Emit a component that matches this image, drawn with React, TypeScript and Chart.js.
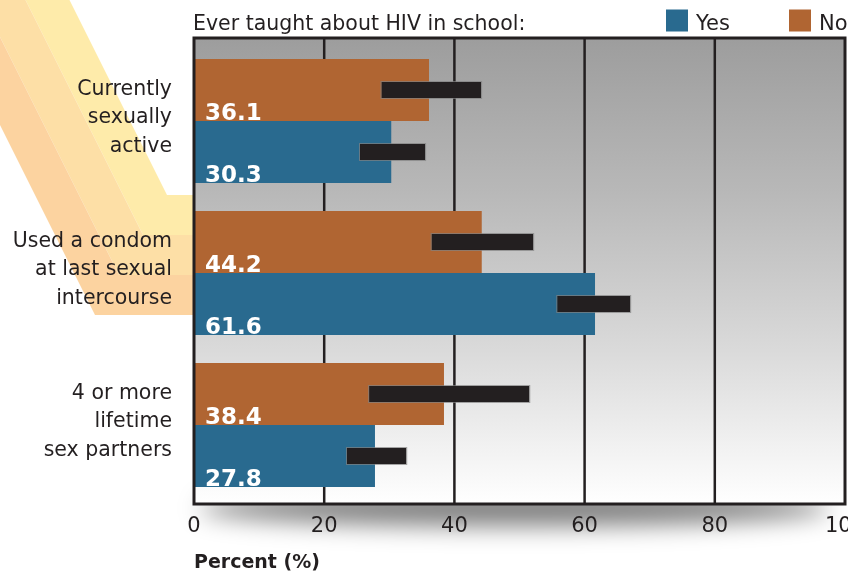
import React, { useEffect, useRef } from "react";
import { Chart, registerables } from "chart.js";

Chart.register(...registerables);

// ---- data ----
const categories: string[][] = [
  ["Currently", "sexually", "active"],
  ["Used a condom", "at last sexual", "intercourse"],
  ["4 or more", "lifetime", "sex partners"],
];
const seriesNames = ["No", "Yes"];
const noValues = [36.1, 44.2, 38.4];
const yesValues = [30.3, 61.6, 27.8];
const noLow = [28.8, 36.5, 26.9];
const noHigh = [44.1, 52.1, 51.5];
const yesLow = [25.5, 55.8, 23.5];
const yesHigh = [35.5, 67.0, 32.6];
const xTicks = [0, 20, 40, 60, 80, 100];
const headerText = "Ever taught about HIV in school:";
const axisTitle = "Percent (%)";

// ---- styles ----
const TEXT = "#231f20";
const NO_COLOR = "#b06532";
const YES_COLOR = "#296a8f";
const FAMILY = '"DejaVu Sans", "Liberation Sans", sans-serif';
const RIBBON = ["#feebaa", "#fddfa6", "#fcd3a0"];

const errLows = [noLow, yesLow];
const errHighs = [noHigh, yesHigh];
const values = [noValues, yesValues];

const decor = {
  id: "decor",
  beforeDraw(chart: any) {
    const ctx = chart.ctx as CanvasRenderingContext2D;
    const xs = chart.scales.x;
    const area = chart.chartArea;
    const left = xs.getPixelForValue(0);
    const right = xs.getPixelForValue(100);
    const top = area.top - 7;
    const bottom = area.bottom + 3;

    // decorative ribbon on the left
    const corner = (i: number) => ({ x: 167 - 24 * i, y: 195 + 40 * i });
    const atTop = (p: { x: number; y: number }) => p.x - 0.5 * p.y;
    ctx.save();
    for (let i = 0; i < 3; i++) {
      const a = corner(i);
      const b = corner(i + 1);
      ctx.fillStyle = RIBBON[i];
      ctx.beginPath();
      ctx.moveTo(atTop(a), 0);
      ctx.lineTo(a.x, a.y);
      ctx.lineTo(left, a.y);
      ctx.lineTo(left, b.y);
      ctx.lineTo(b.x, b.y);
      ctx.lineTo(atTop(b), 0);
      ctx.closePath();
      ctx.fill();
    }
    ctx.restore();

    // shadow under the plot
    ctx.save();
    ctx.filter = "blur(12px)";
    ctx.fillStyle = "rgba(0,0,0,0.5)";
    ctx.beginPath();
    ctx.ellipse((left + right) / 2 - 5, bottom + 4, 315, 18, 0, 0, Math.PI * 2);
    ctx.fill();
    ctx.restore();

    // plot background
    ctx.save();
    const g = ctx.createLinearGradient(0, top, 0, bottom);
    g.addColorStop(0, "#9d9d9d");
    g.addColorStop(0.33, "#b8b8b8");
    g.addColorStop(0.67, "#dadada");
    g.addColorStop(1, "#ffffff");
    ctx.fillStyle = g;
    ctx.fillRect(left, top, right - left, bottom - top);

    // grid lines
    ctx.strokeStyle = TEXT;
    ctx.lineWidth = 2.5;
    xs.ticks.forEach((t: any) => {
      if (t.value === 0 || t.value === 100) return;
      const px = xs.getPixelForValue(t.value);
      ctx.beginPath();
      ctx.moveTo(px, top);
      ctx.lineTo(px, bottom);
      ctx.stroke();
    });
    ctx.restore();
  },
  afterDatasetsDraw(chart: any) {
    const ctx = chart.ctx as CanvasRenderingContext2D;
    const xs = chart.scales.x;
    const area = chart.chartArea;
    const left = xs.getPixelForValue(0);
    const right = xs.getPixelForValue(100);
    const top = area.top - 7;
    const bottom = area.bottom + 3;
    ctx.save();
    chart.data.datasets.forEach((_ds: any, di: number) => {
      const meta = chart.getDatasetMeta(di);
      meta.data.forEach((bar: any, i: number) => {
        const p = bar.getProps(["x", "y", "base", "height"], true);
        const lo = xs.getPixelForValue(errLows[di][i]);
        const hi = xs.getPixelForValue(errHighs[di][i]);
        ctx.fillStyle = TEXT;
        ctx.fillRect(lo, p.y - 8, hi - lo, 16);
        ctx.strokeStyle = "rgba(130,130,130,0.7)";
        ctx.lineWidth = 1;
        ctx.strokeRect(lo - 0.5, p.y - 8.5, hi - lo + 1, 17);
        ctx.font = 'bold 23px "DejaVu Sans", sans-serif';
        ctx.fillStyle = "#ffffff";
        ctx.textAlign = "left";
        ctx.textBaseline = "alphabetic";
        ctx.fillText(values[di][i].toFixed(1), p.base + 11, p.y + p.height / 2 - 1);
      });
    });
    // border
    ctx.strokeStyle = TEXT;
    ctx.lineWidth = 3;
    ctx.strokeRect(left, top, right - left, bottom - top);
    ctx.restore();
  },
  afterDraw(chart: any) {
    const ctx = chart.ctx as CanvasRenderingContext2D;
    const xs = chart.scales.x;
    ctx.save();
    ctx.fillStyle = TEXT;
    ctx.font = "20.5px " + FAMILY;
    ctx.textAlign = "left";
    ctx.textBaseline = "alphabetic";
    ctx.fillText(headerText, xs.getPixelForValue(0) - 1, 29.5);
    // legend (Yes first, then No)
    const items = chart.data.datasets.slice().reverse();
    const xsPos = [666, 789];
    items.forEach((ds: any, k: number) => {
      const x0 = xsPos[k];
      ctx.fillStyle = ds.backgroundColor;
      ctx.fillRect(x0, 9.5, 22, 22);
      ctx.fillStyle = TEXT;
      ctx.font = "21px " + FAMILY;
      ctx.fillText(ds.label, x0 + 30, 30);
    });
    ctx.restore();
  },
};

export default function App() {
  const ref = useRef<HTMLCanvasElement>(null);
  useEffect(() => {
    const canvas = ref.current!;
    const chart = new Chart(canvas, {
      type: "bar",
      data: {
        labels: categories as any,
        datasets: [
          {
            label: seriesNames[0],
            data: noValues,
            backgroundColor: NO_COLOR,
            categoryPercentage: 0.816,
            barPercentage: 1,
          },
          {
            label: seriesNames[1],
            data: yesValues,
            backgroundColor: YES_COLOR,
            categoryPercentage: 0.816,
            barPercentage: 1,
          },
        ],
      },
      options: {
        indexAxis: "y",
        animation: false,
        responsive: false,
        layout: { padding: { top: 45, right: 3, left: 0, bottom: 0 } },
        plugins: {
          legend: { display: false },
          title: { display: false },
          tooltip: { enabled: false },
        },
        scales: {
          x: {
            type: "linear",
            min: 0,
            max: 100,
            position: "bottom",
            grid: { display: false, drawTicks: false },
            border: { display: false },
            afterBuildTicks: (s: any) => {
              s.ticks = xTicks.map((v) => ({ value: v }));
            },
            ticks: {
              font: { family: FAMILY, size: 21 },
              color: TEXT,
              padding: 13,
              maxRotation: 0,
              autoSkip: false,
            },
            title: {
              display: true,
              text: axisTitle,
              align: "start",
              color: TEXT,
              font: { family: '"DejaVu Sans", sans-serif', weight: "bold", size: 19, lineHeight: 1 },
              padding: 0,
            },
            afterFit: (s: any) => {
              s.height = 72;
              s.paddingLeft = 0;
              s.paddingRight = 0;
            },
          },
          y: {
            type: "category",
            grid: { display: false, drawTicks: false },
            border: { display: false },
            ticks: {
              font: { family: FAMILY, size: 20.5, lineHeight: 1.38 },
              color: TEXT,
              padding: 22,
              labelOffset: -3,
              autoSkip: false,
            },
            afterFit: (s: any) => {
              s.width = 194;
              s.paddingTop = 0;
              s.paddingBottom = 0;
            },
          },
        },
      } as any,
      plugins: [decor],
    });
    return () => chart.destroy();
  }, []);

  return (
    <div style={{ position: "absolute", left: 0, top: 0, width: 848, height: 573, background: "#fff" }}>
      <canvas ref={ref} width={848} height={573} style={{ display: "block" }} />
    </div>
  );
}
